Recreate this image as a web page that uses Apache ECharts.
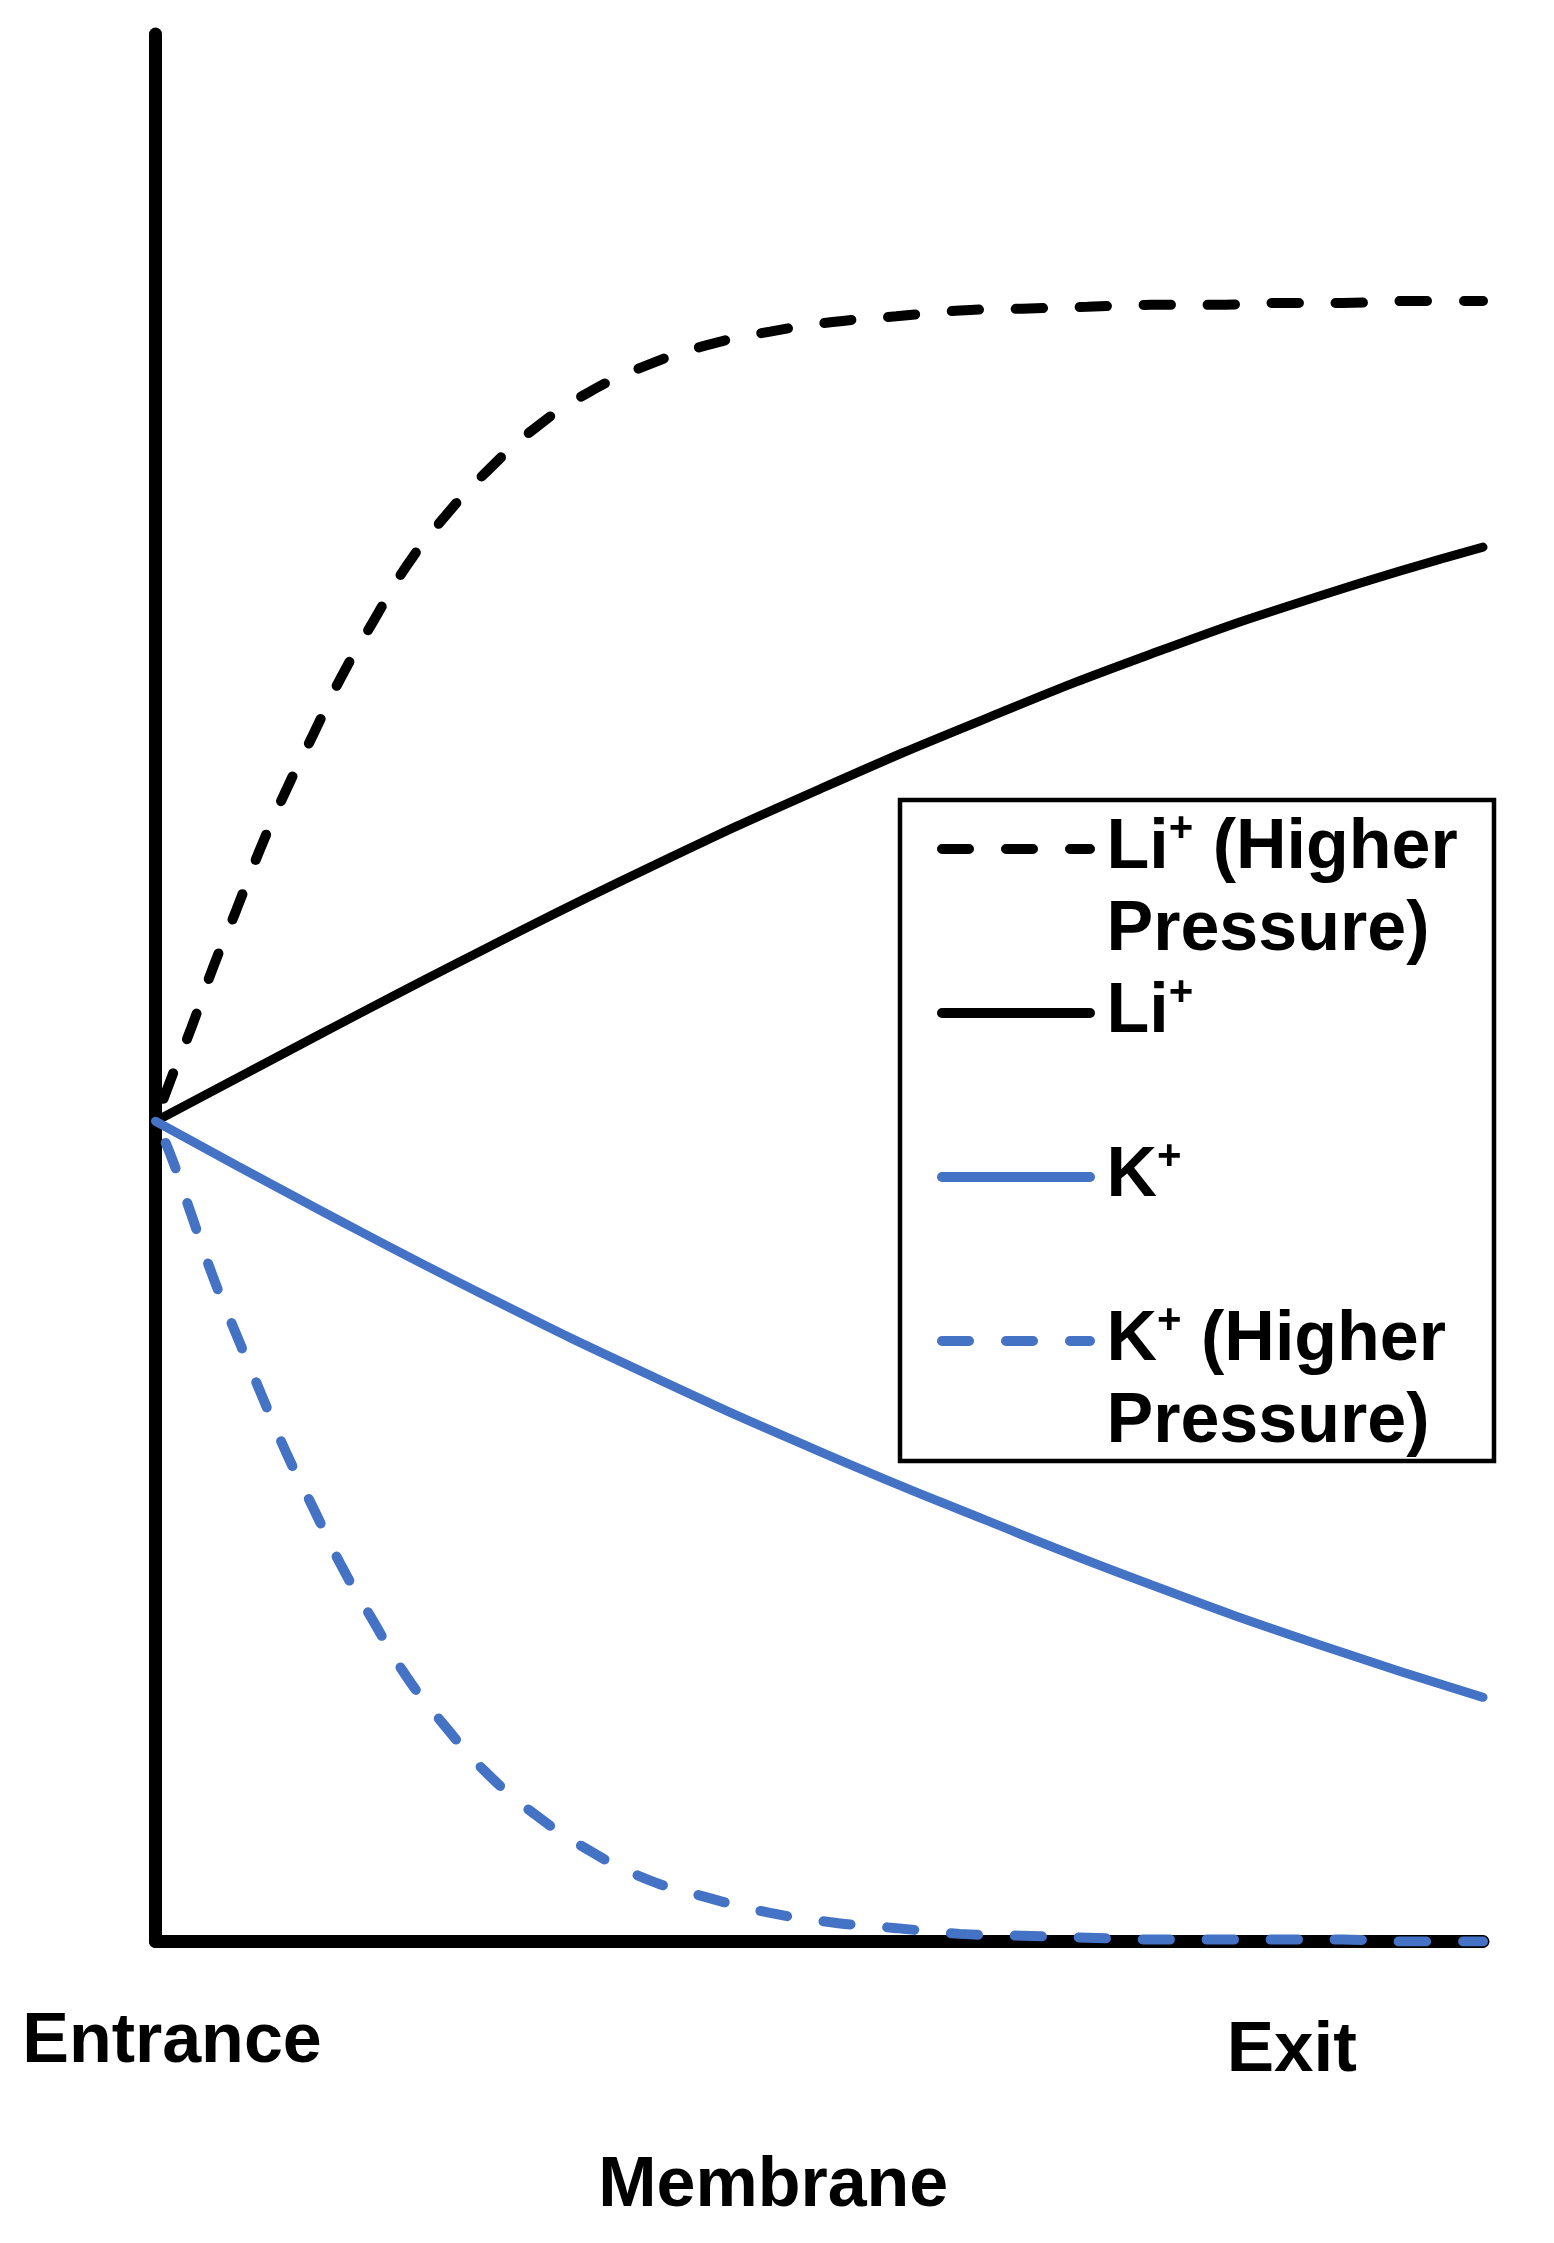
<!DOCTYPE html>
<html lang="en">
<head>
<meta charset="UTF-8">
<title>Membrane concentration profiles</title>
<style>
  html, body { margin: 0; padding: 0; background: #fff; }
  #main { width: 1554px; height: 2243px; }
</style>
</head>
<body>
<div id="main"></div>
<script src="https://cdn.jsdelivr.net/npm/echarts@6/dist/echarts.min.js"></script>
<script>
  // position along the membrane, 0 = entrance, 100 = exit
  var hpX = [0, 1.1, 2.7, 4.3, 6.1, 7.9, 9.8, 11.9, 14.0, 16.4, 18.9, 21.8, 25.0, 28.7, 32.6, 36.9,
             41.6, 46.3, 51.0, 55.8, 60.6, 65.3, 70.2, 75.0, 79.7, 84.6, 89.4, 94.2, 100];
  var liHigh = [43.0, 45.1, 47.9, 51.0, 54.1, 57.3, 60.3, 63.3, 66.3, 69.2, 72.1, 74.7, 77.1, 79.4, 81.2, 82.6,
                83.7, 84.4, 84.9, 85.2, 85.5, 85.6, 85.7, 85.8, 85.8, 85.9, 85.9, 86.0, 86.0];
  var kHigh = [43.0, 41.3, 38.1, 34.9, 31.8, 28.8, 25.7, 22.7, 19.7, 16.8, 13.9, 11.3, 8.8, 6.6, 4.8, 3.3,
               2.3, 1.5, 1.0, 0.7, 0.4, 0.3, 0.2, 0.1, 0.1, 0.1, 0.1, 0.0, 0.0];
  var lowX = [0, 12.5, 25, 37.5, 50, 62.5, 75, 87.5, 100];
  var liLow = [43.0, 47.6, 52.1, 56.4, 60.4, 64.1, 67.5, 70.5, 73.1];
  var kLow = [43.0, 38.3, 33.8, 29.6, 25.7, 22.1, 18.7, 15.6, 12.8];

  var edgeTicks = [1.24, 85.6];
  var edgeNames = ['Entrance', 'Exit'];

  var FONT = 'Liberation Sans';
  var BLUE = '#4472C4';

  function pairs(xs, ys) {
    return xs.map(function (x, i) { return [x, ys[i]]; });
  }

  var legendText = {
    liHigh: '{b|Li}{s|+}{b| (Higher}\n{b|Pressure)}',
    li: '{b|Li}{s|+}',
    k: '{b|K}{s|+}',
    kHigh: '{b|K}{s|+}{b| (Higher}\n{b|Pressure)}'
  };

  function curve(name, xs, ys, color, dashed) {
    return {
      name: name,
      type: 'line',
      data: pairs(xs, ys),
      symbol: 'none',
      smooth: 0.5,
      itemStyle: { color: color },
      lineStyle: {
        color: color,
        width: dashed ? 10 : 9,
        type: dashed ? [27, 37] : 'solid',
        dashOffset: dashed ? 40 : 0,
        cap: 'round'
      }
    };
  }

  var chart = echarts.init(document.getElementById('main'));
  var option = {
    animation: false,
    backgroundColor: '#fff',
    grid: { left: 155.5, right: 71, top: 34, bottom: 301.5, outerBoundsMode: 'none' },
    graphic: [{
      type: 'rect',
      shape: { x: 900, y: 800, width: 594, height: 661 },
      style: { fill: '#fff', stroke: '#000', lineWidth: 4.5 }
    }],
    xAxis: {
      type: 'value', min: 0, max: 100,
      axisLine: { show: true, lineStyle: { color: '#000', width: 13 } },
      axisTick: { show: false },
      splitLine: { show: false },
      axisLabel: {
        customValues: edgeTicks,
        margin: 67,
        formatter: function (v) {
          return v < 50 ? '{a|' + edgeNames[0] + '}' : '{c|' + edgeNames[1] + '}';
        },
        rich: {
          a: { fontFamily: FONT, fontWeight: 'bold', fontSize: 70, color: '#000', lineHeight: 68 },
          c: { fontFamily: FONT, fontWeight: 'bold', fontSize: 71, color: '#000', lineHeight: 86 }
        }
      },
      name: 'Membrane',
      nameLocation: 'middle',
      nameGap: 211,
      nameTextStyle: {
        fontFamily: FONT, fontWeight: 'bold', fontSize: 70, color: '#000', lineHeight: 68,
        padding: [0, 92, 0, 0]
      }
    },
    yAxis: {
      type: 'value', min: 0, max: 100,
      axisLine: { show: true, lineStyle: { color: '#000', width: 13 } },
      axisTick: { show: false },
      axisLabel: { show: false },
      splitLine: { show: false }
    },
    legend: {
      orient: 'vertical',
      left: 937,
      top: 726,
      padding: 0,
      itemWidth: 148,
      itemHeight: 2,
      itemGap: -82,
      selectedMode: false,
      itemStyle: { color: 'rgba(0,0,0,0)', borderWidth: 0, opacity: 0 },
      lineStyle: { width: 10, dashOffset: 0 },
      formatter: function (name) { return legendText[name]; },
      textStyle: {
        fontFamily: FONT, fontWeight: 'bold', fontSize: 70, lineHeight: 82, color: '#000',
        rich: {
          b: { fontFamily: FONT, fontWeight: 'bold', fontSize: 70, lineHeight: 82, color: '#000' },
          s: { fontFamily: FONT, fontWeight: 'bold', fontSize: 42, lineHeight: 52, color: '#000', verticalAlign: 'top' }
        }
      },
      data: [
        { name: 'liHigh', textStyle: { padding: [82, 0, 0, 11.5] } },
        { name: 'li', textStyle: { padding: [82, 0, 82, 11.5] } },
        { name: 'k', textStyle: { padding: [82, 0, 82, 11.5] } },
        { name: 'kHigh', textStyle: { padding: [82, 0, 0, 11.5] } }
      ]
    },
    series: [
      curve('liHigh', hpX, liHigh, '#000', true),
      curve('li', lowX, liLow, '#000', false),
      curve('k', lowX, kLow, BLUE, false),
      curve('kHigh', hpX, kHigh, BLUE, true)
    ]
  };
  chart.setOption(option);

  window.addEventListener('resize', function () {
    chart.resize();
  });
</script>
</body>
</html>
